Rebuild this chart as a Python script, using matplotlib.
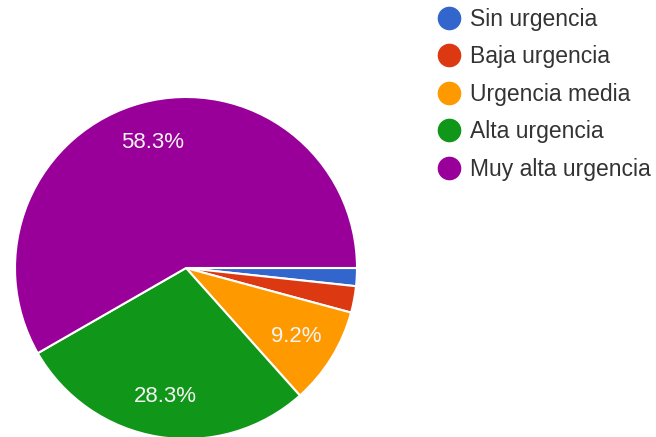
import matplotlib.pyplot as plt
from matplotlib.lines import Line2D

plt.rcParams['font.family'] = ['Liberation Sans', 'DejaVu Sans']

labels = ["Sin urgencia", "Baja urgencia", "Urgencia media", "Alta urgencia", "Muy alta urgencia"]
values = [1.7, 2.5, 9.2, 28.3, 58.3]
colors = ["#3366CC", "#DC3912", "#FF9900", "#109618", "#990099"]

W, H = 656, 437
fig = plt.figure(figsize=(W / 100, H / 100), dpi=100)

# pie centre (186, 267) px, radius 171 px
cx, cy, r = 186, 268, 171
ax = fig.add_axes([(cx - r) / W, (H - cy - r) / H, 2 * r / W, 2 * r / H])


def pct(p):
    return f"{p:.1f}%" if p >= 5 else ""


wedges, _, autotexts = ax.pie(values, colors=colors, startangle=0, counterclock=False,
                              autopct=pct, pctdistance=0.76, radius=1,
                              wedgeprops=dict(edgecolor="white", linewidth=1.5))
for t in autotexts:
    t.set_color("#f4f4f4")
    t.set_fontsize(16)
ax.set_xlim(-1, 1)
ax.set_ylim(-1, 1)
ax.set_aspect("equal")

handles = [Line2D([], [], marker="o", ls="", color=c, markersize=16) for c in colors]
fig.legend(handles, labels, loc="upper left", bbox_to_anchor=(437.5 / W, 1 - 8 / H),
           frameon=False, fontsize=16.5, handlelength=1.0, handletextpad=0.4,
           labelspacing=0.63, borderpad=0, borderaxespad=0, labelcolor="#333333")

fig.savefig("out.png", dpi=100)
